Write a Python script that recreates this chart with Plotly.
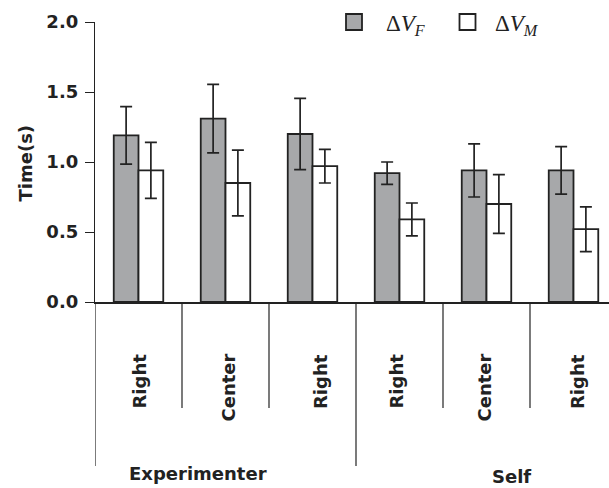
import plotly.graph_objects as go

# Reaction-time data per condition
categories = ["Right", "Center", "Right", "Right", "Center", "Right"]
groups = ["Experimenter", "Self"]
dv_f = [1.19, 1.31, 1.20, 0.92, 0.94, 0.94]
dv_f_err = [0.205, 0.245, 0.255, 0.08, 0.19, 0.17]
dv_m = [0.94, 0.85, 0.97, 0.59, 0.70, 0.52]
dv_m_err = [0.20, 0.235, 0.12, 0.117, 0.21, 0.16]
y_ticks = [0.0, 0.5, 1.0, 1.5, 2.0]
y_tick_text = ["0.0", "0.5", "1.0", "1.5", "2.0"]

# Figure geometry (pixels)
W, H = 609, 488
ML, MR, MT, MB = 95, 0, 22, 186
PW, PH = W - ML - MR, H - MT - MB

def px_x(p):
    return (p - ML) / PW

def px_y(p):
    return (H - MB - p) / PH

INK = "#222222"
GRAY = "#a7a8aa"
BOLD = dict(family="DejaVu Sans", size=18, color=INK, weight="bold")
SERIF = dict(family="Liberation Serif", size=23, color=INK)

x = list(range(len(categories)))

fig = go.Figure()
fig.add_trace(go.Bar(
    x=x, y=dv_f, name="ΔV_F",
    marker=dict(color=GRAY, line=dict(color=INK, width=1.8)),
    error_y=dict(type="data", array=dv_f_err, color=INK, thickness=1.7, width=6),
))
fig.add_trace(go.Bar(
    x=x, y=dv_m, name="ΔV_M",
    marker=dict(color="white", line=dict(color=INK, width=1.8)),
    error_y=dict(type="data", array=dv_m_err, color=INK, thickness=1.7, width=6),
))

# Category divider lines below the axis
shapes = []
for b in [-0.5, 0.5, 1.5, 2.5, 3.5, 4.5]:
    long = b in (-0.5, 2.5)
    shapes.append(dict(type="line", xref="x", yref="paper", x0=b, x1=b,
                       y0=0, y1=px_y(466 if long else 408),
                       line=dict(color=INK, width=1.2)))

# Legend swatches
for left, fill in [(346, GRAY), (459.5, "white")]:
    shapes.append(dict(type="rect", xref="paper", yref="paper",
                       x0=px_x(left), x1=px_x(left + 16), y0=px_y(14), y1=px_y(30),
                       fillcolor=fill, line=dict(color=INK, width=1.8)))

annotations = []
# Category labels (rotated)
label_shift = [0.5, 2, 8, -3.5, -3, 4]
for i, (lab, sh) in enumerate(zip(categories, label_shift)):
    annotations.append(dict(x=i, y=px_y(352), xref="x", yref="paper", text=lab,
                            textangle=-90, showarrow=False, xanchor="center",
                            yanchor="top", xshift=sh, font=BOLD))
# Group labels
annotations.append(dict(x=px_x(197.7), y=px_y(473.5), xref="paper", yref="paper",
                        text=groups[0], showarrow=False, xanchor="center",
                        yanchor="middle", font=BOLD))
annotations.append(dict(x=px_x(511.7), y=px_y(488), xref="paper", yref="paper",
                        text=groups[1], showarrow=False, xanchor="center",
                        yanchor="bottom", borderpad=0, font=BOLD))
# Y axis title
annotations.append(dict(x=px_x(25), y=px_y(163.5), xref="paper", yref="paper",
                        text="Time(s)", textangle=-90, showarrow=False,
                        xanchor="center", yanchor="middle", font=BOLD))
# Legend texts
annotations.append(dict(x=px_x(384), y=px_y(25), xref="paper", yref="paper",
                        text="Δ<i>V</i><sub><i>F</i></sub>", showarrow=False,
                        xanchor="left", yanchor="middle", font=SERIF))
annotations.append(dict(x=px_x(493), y=px_y(25), xref="paper", yref="paper",
                        text="Δ<i>V</i><sub><i>M</i></sub>", showarrow=False,
                        xanchor="left", yanchor="middle", font=SERIF))

fig.update_layout(
    width=W, height=H,
    margin=dict(l=ML, r=MR, t=MT, b=MB, pad=0),
    paper_bgcolor="white", plot_bgcolor="white",
    barmode="group", bargap=0.431, bargroupgap=0,
    showlegend=False,
    shapes=shapes, annotations=annotations,
    xaxis=dict(range=[-0.5, 5.408], showline=True, linecolor=INK, linewidth=1.5,
               showticklabels=False, ticks="", showgrid=False, zeroline=False,
               fixedrange=True),
    yaxis=dict(range=[0, 2.0], tickvals=y_ticks, ticktext=y_tick_text,
               showline=True, linecolor=INK, linewidth=1.3, ticks="outside",
               ticklen=9, tickwidth=1.3, tickcolor=INK, showgrid=False,
               zeroline=False, tickfont=BOLD, ticklabelstandoff=3),
)

fig.write_html("out.html")
